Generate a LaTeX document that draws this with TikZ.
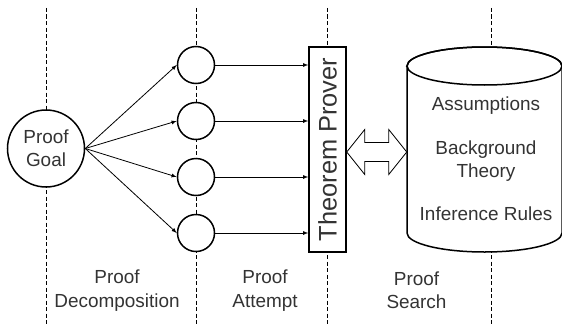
\documentclass[tikz,border=0pt]{standalone}
\usepackage{fontspec}
\setmainfont{Liberation Sans}

\begin{document}
\begin{tikzpicture}[
    x=1bp, y=1bp,
    lbl/.style={font=\fontsize{19}{23.5}\selectfont, align=center, text=black!80, inner sep=0pt},
    goalnode/.style={circle, draw=black, fill=white, line width=1.5bp, minimum size=77bp, inner sep=0pt, align=center, font=\fontsize{19}{23.5}\selectfont, text=black!80},
    attempt/.style={circle, draw=black, fill=white, line width=1.5bp, minimum size=37bp, inner sep=0pt},
    proverbox/.style={rectangle, draw=black, fill=white, line width=1.5bp, minimum width=37bp, minimum height=205bp, inner sep=0pt, font=\fontsize{25.5}{30}\selectfont, text=black!80},
    arr/.style={->, >=latex, line width=0.8bp},
    lane/.style={dash pattern=on 4bp off 2.5bp, line width=0.8bp},
]
\useasboundingbox (0,0) rectangle (562,326);

% lanes
\foreach \lx in {46,196,327,491}
    \draw[lane] (\lx,318) -- (\lx,0);

\node[goalnode] (goal) at (46,177.5) {Proof\\Goal};
\node[attempt] (a1) at (196,261) {};
\node[attempt, below of=a1, node distance=56bp] (a2) {};
\node[attempt, below of=a2, node distance=56bp] (a3) {};
\node[attempt, below of=a3, node distance=56bp] (a4) {};
\node[proverbox] (prover) at (327.5,176.5) {\rotatebox{90}{Theorem Prover}};

% knowledge base cylinder
\draw[line width=1.5bp, fill=white] (407,260) -- (407,93)
    arc[start angle=180, end angle=360, x radius=77.5bp, y radius=19bp] -- (562,260)
    arc[start angle=0, end angle=180, x radius=77.5bp, y radius=19bp] -- cycle;
\draw[line width=1.5bp] (484.5,260) ellipse [x radius=77.5bp, y radius=19bp];
\node[lbl] (kb) at (486,167) {Assumptions\\[20bp]Background\\Theory\\[20bp]Inference Rules};

% hollow double arrow between prover and kb
\coordinate (link) at (prover.east |- 0,174);
\draw[line width=0.8bp, fill=white] (link) -- ++(18,22.5) -- ++(0,-13) -- ++(24,0) -- ++(0,13)
    -- ++(18,-22.5) -- ++(-18,-22.5) -- ++(0,13) -- ++(-24,0) -- ++(0,-13) -- cycle;

\foreach \n in {a1,a2,a3,a4} {
    \draw[arr] (goal.east) -- (\n.west);
    \draw[arr] (\n) -- (\n -| prover.west);
}

\node[lbl] (decomp) at (117,35.5) {Proof\\Decomposition};
\node[lbl] (attempt) at (265,35.5) {Proof\\Attempt};
\node[lbl] (search) at (416.5,35.5) {Proof\\Search};
\end{tikzpicture}
\end{document}
